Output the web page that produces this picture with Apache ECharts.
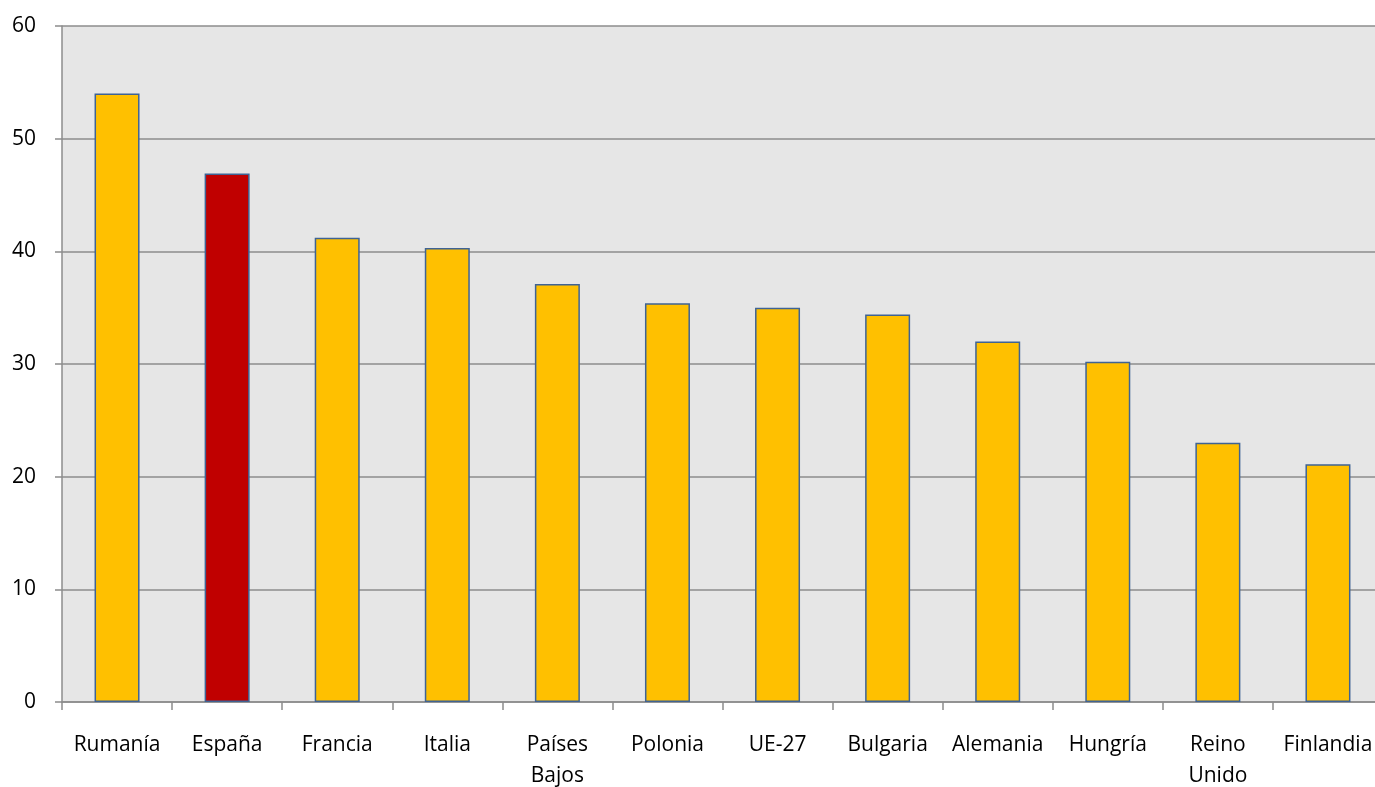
<!DOCTYPE html>
<html><head><meta charset="utf-8">
<script src="https://cdn.jsdelivr.net/npm/echarts@6/dist/echarts.min.js"></script>
<style>html,body{margin:0;padding:0;background:#fff}#c{width:1375px;height:787px}</style>
</head><body><div id="c"></div>
<script>
const categories = ['Rumanía','España','Francia','Italia','Países\nBajos','Polonia','UE-27','Bulgaria','Alemania','Hungría','Reino\nUnido','Finlandia'];
const values = [54.0, 46.9, 41.2, 40.3, 37.1, 35.4, 35.0, 34.4, 32.0, 30.2, 23.0, 21.1];
const highlight = 'España';
const yTicks = [0, 10, 20, 30, 40, 50, 60];

const chart = echarts.init(document.getElementById('c'), null, {renderer:'canvas'});
chart.setOption({
  animation: false,
  grid: {left: 62, top: 26, width: 1321, height: 676, backgroundColor: '#e6e6e6', show: true, borderWidth: 0,
    outerBoundsMode: 'none', containLabel: false},
  xAxis: {
    type: 'category', data: categories,
    axisLine: {show: true, lineStyle: {color: '#8c8c8c', width: 1.5}},
    axisTick: {show: true, alignWithLabel: false, length: 8, lineStyle: {color: '#8c8c8c', width: 1.5}},
    axisLabel: {color: '#000', fontFamily: 'Open Sans', fontSize: 21, margin: 28, lineHeight: 31, interval: 0}
  },
  yAxis: {
    type: 'value', min: 0, max: 60, interval: 10,
    axisLine: {show: true, lineStyle: {color: '#8c8c8c', width: 1.5}},
    axisTick: {show: true, length: 7, lineStyle: {color: '#8c8c8c', width: 1.5}},
    axisLabel: {color: '#000', fontFamily: 'Open Sans', fontSize: 21, margin: 26,
      formatter: v => yTicks.includes(v) ? String(v) : ''},
    splitLine: {show: true, lineStyle: {color: '#8c8c8c', width: 1.5}}
  },
  series: [{
    type: 'bar', barWidth: 45,
    data: values.map((v, i) => ({value: v, itemStyle: {color: categories[i] === highlight ? '#c00000' : '#ffc000'}})),
    itemStyle: {borderColor: '#3f6394', borderWidth: 1.5}
  }]
});
</script></body></html>
